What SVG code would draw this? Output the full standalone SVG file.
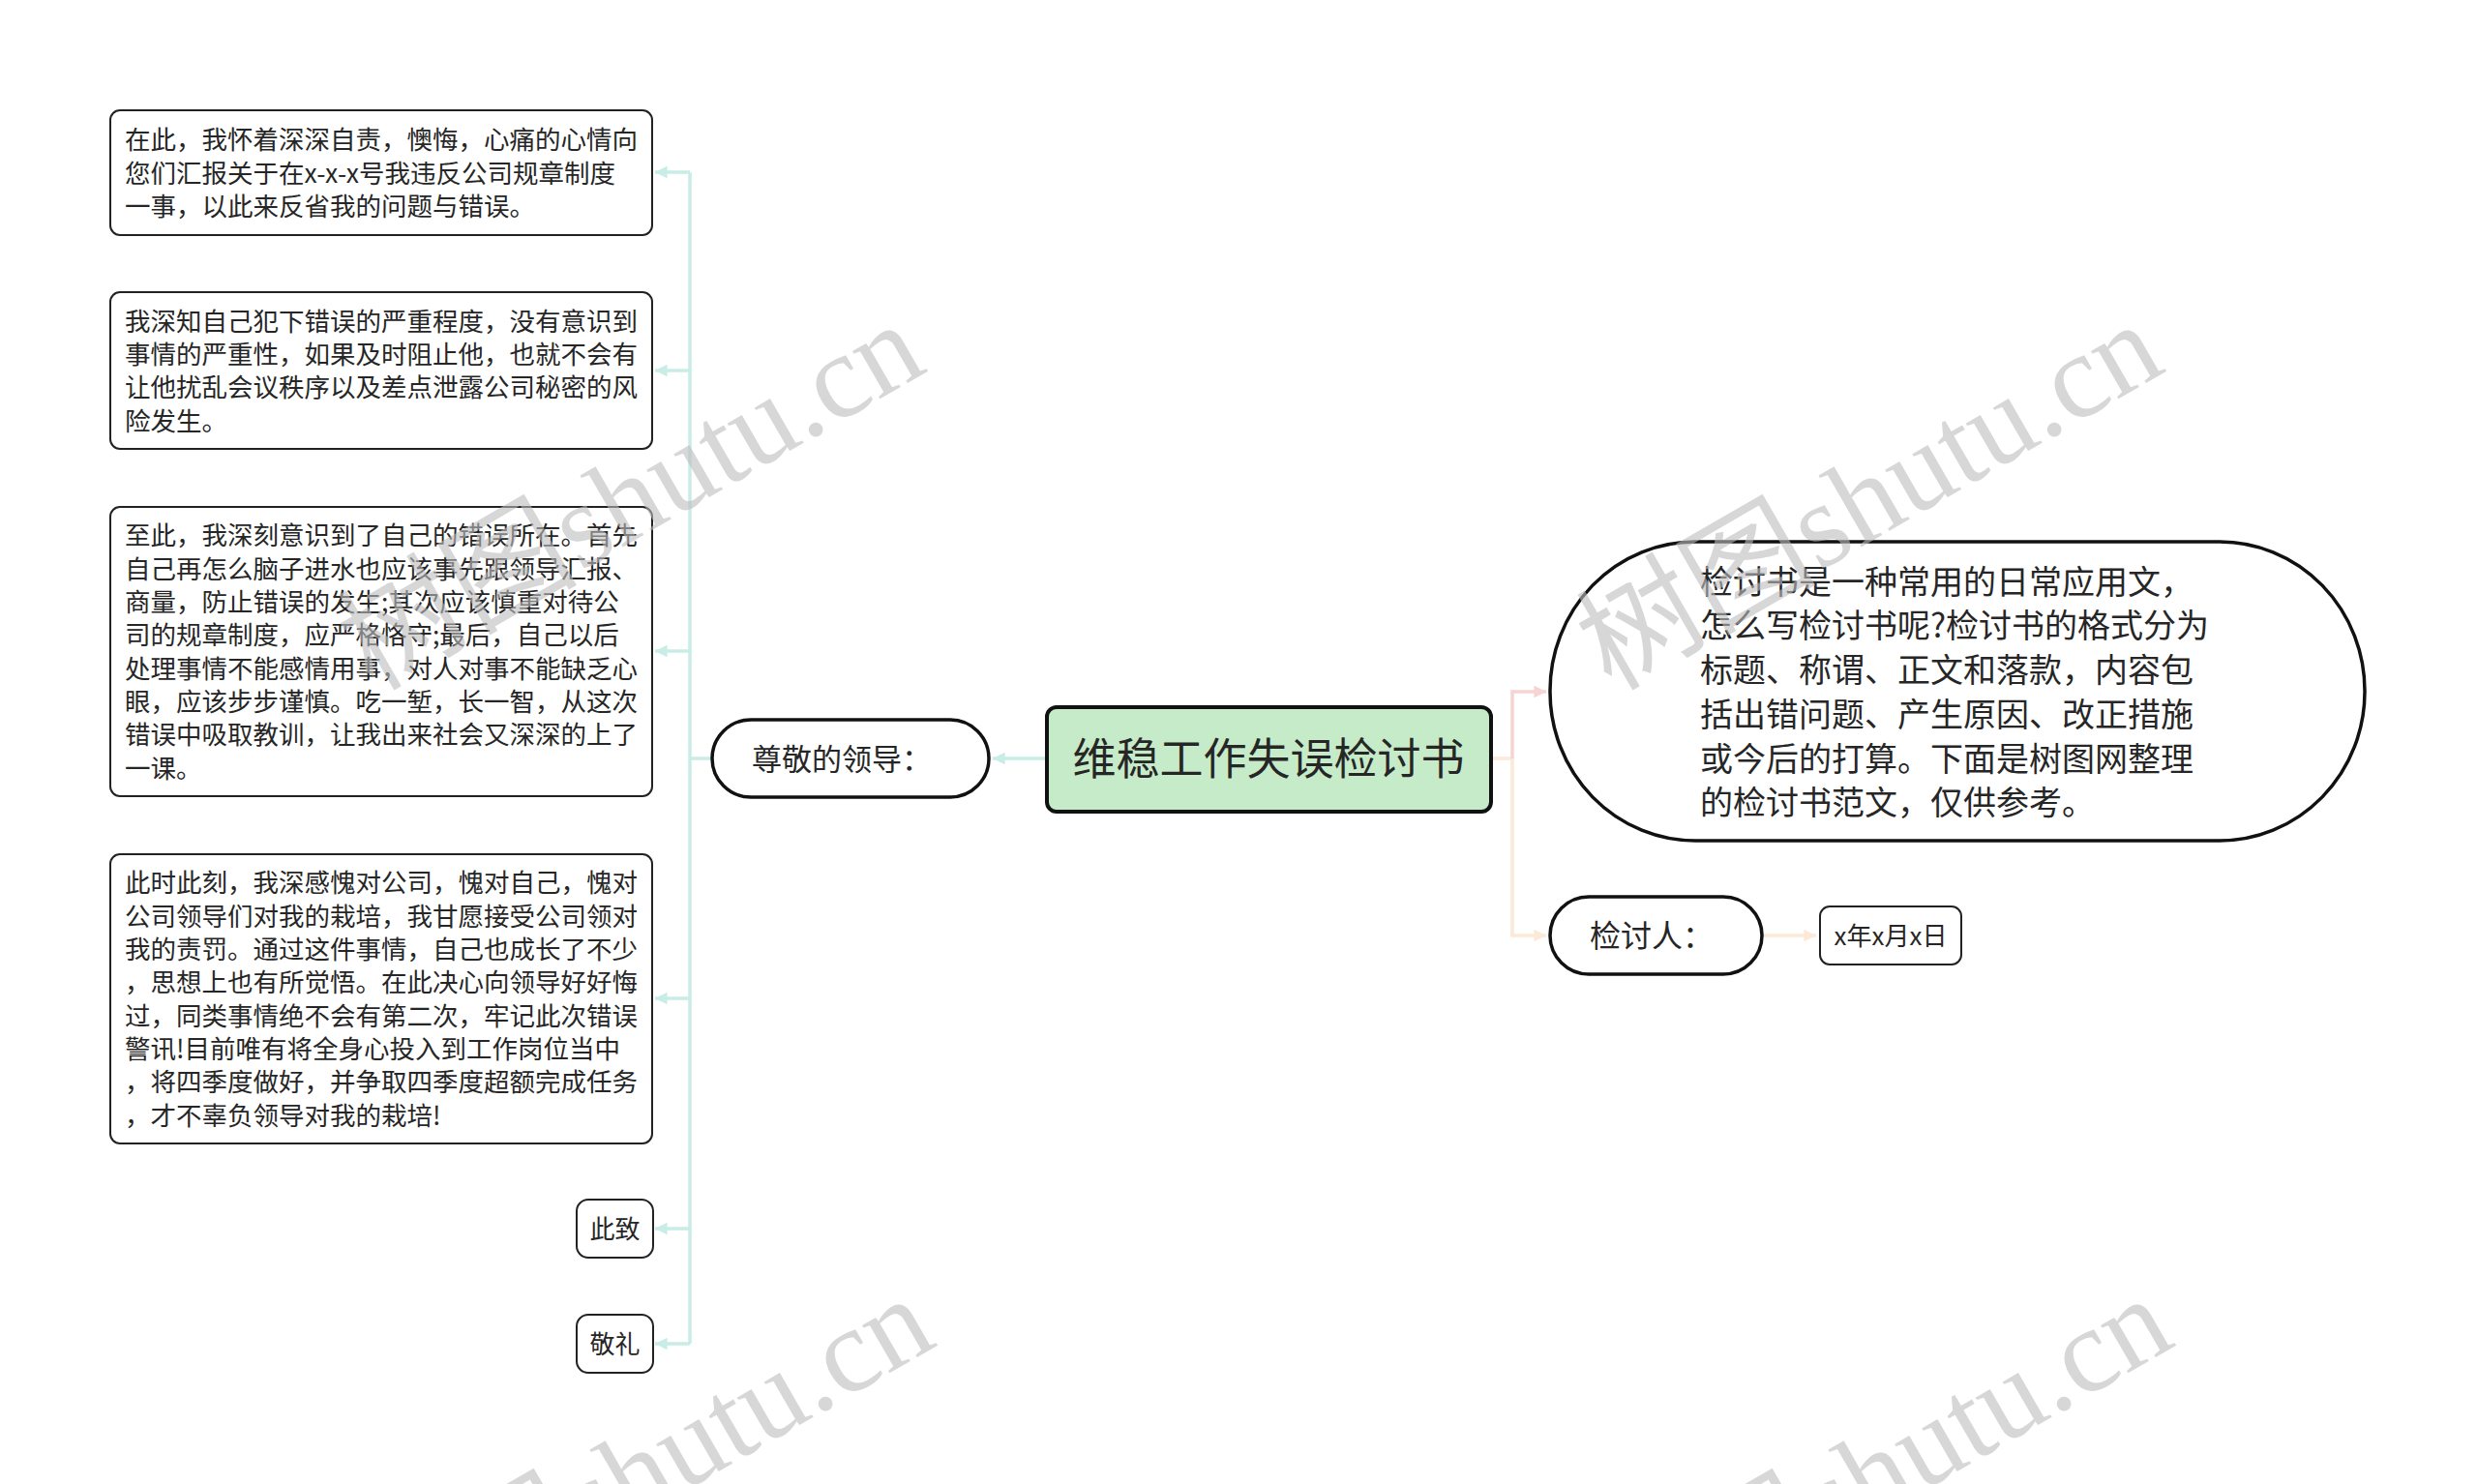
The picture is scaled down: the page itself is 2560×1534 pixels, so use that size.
<svg xmlns="http://www.w3.org/2000/svg" width="2560" height="1534" viewBox="0 0 2560 1534">
<style>
  .t { font-family: "Noto Sans CJK SC", "Noto Sans", sans-serif; fill: #262626; }
  .box { fill: #ffffff; stroke: #222; stroke-width: 2; }
  .pill { fill: #ffffff; stroke: #111; stroke-width: 3.5; }
  .main { fill: #c6ebc9; stroke: #111; stroke-width: 4; }
  .cy { fill: none; stroke: #c8ece6; stroke-width: 3.5; }
  .pk { fill: none; stroke: #f7d3d3; stroke-width: 3.5; }
  .pe { fill: none; stroke: #fde9d8; stroke-width: 3.5; }
  .wm { font-family: "Liberation Serif", "Noto Sans CJK SC", serif; font-size: 124px; fill: #bdbdbd; fill-opacity: 0.6; }
</style>
<defs>
  <marker id="ac" viewBox="0 0 10 10" refX="10" refY="5" markerWidth="3.6" markerHeight="3.6" orient="auto" markerUnits="strokeWidth">
    <path d="M0,0 L10,5 L0,10 z" fill="#c8ece6"/>
  </marker>
  <marker id="ap" viewBox="0 0 10 10" refX="10" refY="5" markerWidth="3.6" markerHeight="3.6" orient="auto" markerUnits="strokeWidth">
    <path d="M0,0 L10,5 L0,10 z" fill="#f7d3d3"/>
  </marker>
  <marker id="ae" viewBox="0 0 10 10" refX="10" refY="5" markerWidth="3.6" markerHeight="3.6" orient="auto" markerUnits="strokeWidth">
    <path d="M0,0 L10,5 L0,10 z" fill="#fde9d8"/>
  </marker>
</defs>
<rect width="2560" height="1534" fill="#ffffff"/>

<g id="connectors">
  <path class="cy" d="M1082,784 H1026" marker-end="url(#ac)"/>
  <path class="cy" d="M736,784 H713"/>
  <path class="cy" d="M713,178 V1389"/>
  <path class="cy" d="M713,178 H677" marker-end="url(#ac)"/>
  <path class="cy" d="M713,383 H677" marker-end="url(#ac)"/>
  <path class="cy" d="M713,673 H677" marker-end="url(#ac)"/>
  <path class="cy" d="M713,1032 H677" marker-end="url(#ac)"/>
  <path class="cy" d="M713,1270 H677" marker-end="url(#ac)"/>
  <path class="cy" d="M713,1389 H677" marker-end="url(#ac)"/>
  <path class="pe" d="M1541,784 H1563 V967 H1598" marker-end="url(#ae)"/>
  <path class="pk" d="M1563,784 V715 H1598" marker-end="url(#ap)"/>
  <path class="pe" d="M1821,967 H1877" marker-end="url(#ae)"/>
</g>

<g id="main">
  <rect class="main" x="1082" y="731" width="459" height="108" rx="10"/>
  <text class="t" x="1311" y="801" font-size="45" text-anchor="middle">维稳工作失误检讨书</text>
</g>

<g id="leader">
  <rect class="pill" x="736" y="744" width="286" height="80" rx="40"/>
  <text class="t" x="777" y="796" font-size="31">尊敬的领导：</text>
</g>

<g id="p1">
  <rect class="box" x="114" y="114" width="560" height="129" rx="10"/>
  <text class="t" font-size="26.5">
    <tspan x="129" y="154">在此，我怀着深深自责，懊悔，心痛的心情向</tspan>
    <tspan x="129" y="188.5">您们汇报关于在x-x-x号我违反公司规章制度</tspan>
    <tspan x="129" y="223">一事，以此来反省我的问题与错误。</tspan>
  </text>
</g>

<g id="p2">
  <rect class="box" x="114" y="302" width="560" height="162" rx="10"/>
  <text class="t" font-size="26.5">
    <tspan x="129" y="341.5">我深知自己犯下错误的严重程度，没有意识到</tspan>
    <tspan x="129" y="375.8">事情的严重性，如果及时阻止他，也就不会有</tspan>
    <tspan x="129" y="410.2">让他扰乱会议秩序以及差点泄露公司秘密的风</tspan>
    <tspan x="129" y="444.5">险发生。</tspan>
  </text>
</g>

<g id="p3">
  <rect class="box" x="114" y="524" width="560" height="299" rx="10"/>
  <text class="t" font-size="26.5">
    <tspan x="129" y="563.4">至此，我深刻意识到了自己的错误所在。首先</tspan>
    <tspan x="129" y="597.7">自己再怎么脑子进水也应该事先跟领导汇报、</tspan>
    <tspan x="129" y="632">商量，防止错误的发生;其次应该慎重对待公</tspan>
    <tspan x="129" y="666.3">司的规章制度，应严格恪守;最后，自己以后</tspan>
    <tspan x="129" y="700.6">处理事情不能感情用事，对人对事不能缺乏心</tspan>
    <tspan x="129" y="734.9">眼，应该步步谨慎。吃一堑，长一智，从这次</tspan>
    <tspan x="129" y="769.2">错误中吸取教训，让我出来社会又深深的上了</tspan>
    <tspan x="129" y="803.5">一课。</tspan>
  </text>
</g>

<g id="p4">
  <rect class="box" x="114" y="883" width="560" height="299" rx="10"/>
  <text class="t" font-size="26.5">
    <tspan x="129" y="922.4">此时此刻，我深感愧对公司，愧对自己，愧对</tspan>
    <tspan x="129" y="956.7">公司领导们对我的栽培，我甘愿接受公司领对</tspan>
    <tspan x="129" y="991">我的责罚。通过这件事情，自己也成长了不少</tspan>
    <tspan x="129" y="1025.3">，思想上也有所觉悟。在此决心向领导好好悔</tspan>
    <tspan x="129" y="1059.6">过，同类事情绝不会有第二次，牢记此次错误</tspan>
    <tspan x="129" y="1093.9">警讯!目前唯有将全身心投入到工作岗位当中</tspan>
    <tspan x="129" y="1128.2">，将四季度做好，并争取四季度超额完成任务</tspan>
    <tspan x="129" y="1162.5">，才不辜负领导对我的栽培!</tspan>
  </text>
</g>

<g id="p5">
  <rect class="box" x="596" y="1240" width="79" height="60" rx="12"/>
  <text class="t" x="635.5" y="1280" font-size="26" text-anchor="middle">此致</text>
</g>

<g id="p6">
  <rect class="box" x="596" y="1359" width="79" height="60" rx="12"/>
  <text class="t" x="635.5" y="1399" font-size="26" text-anchor="middle">敬礼</text>
</g>

<g id="summary">
  <rect class="pill" x="1602" y="560" width="842" height="309" rx="150" ry="154"/>
  <text class="t" font-size="34">
    <tspan x="1757" y="613.7">检讨书是一种常用的日常应用文，</tspan>
    <tspan x="1757" y="659.4">怎么写检讨书呢?检讨书的格式分为</tspan>
    <tspan x="1757" y="705">标题、称谓、正文和落款，内容包</tspan>
    <tspan x="1757" y="750.8">括出错问题、产生原因、改正措施</tspan>
    <tspan x="1757" y="796.5">或今后的打算。下面是树图网整理</tspan>
    <tspan x="1757" y="842">的检讨书范文，仅供参考。</tspan>
  </text>
</g>

<g id="reviewer">
  <rect class="pill" x="1602" y="927" width="219" height="80" rx="40"/>
  <text class="t" x="1643" y="979" font-size="32">检讨人：</text>
</g>

<g id="date">
  <rect class="box" x="1881" y="937" width="146" height="60" rx="10"/>
  <text class="t" x="1954" y="977" font-size="26" text-anchor="middle">x年x月x日</text>
</g>

<g id="watermarks">
  <text class="wm" transform="translate(385,715) rotate(-30)">树图shutu.cn</text>
  <text class="wm" transform="translate(1665,715) rotate(-30)">树图shutu.cn</text>
  <text class="wm" transform="translate(395,1722) rotate(-30)">树图shutu.cn</text>
  <text class="wm" transform="translate(1675,1722) rotate(-30)">树图shutu.cn</text>
</g>
</svg>
